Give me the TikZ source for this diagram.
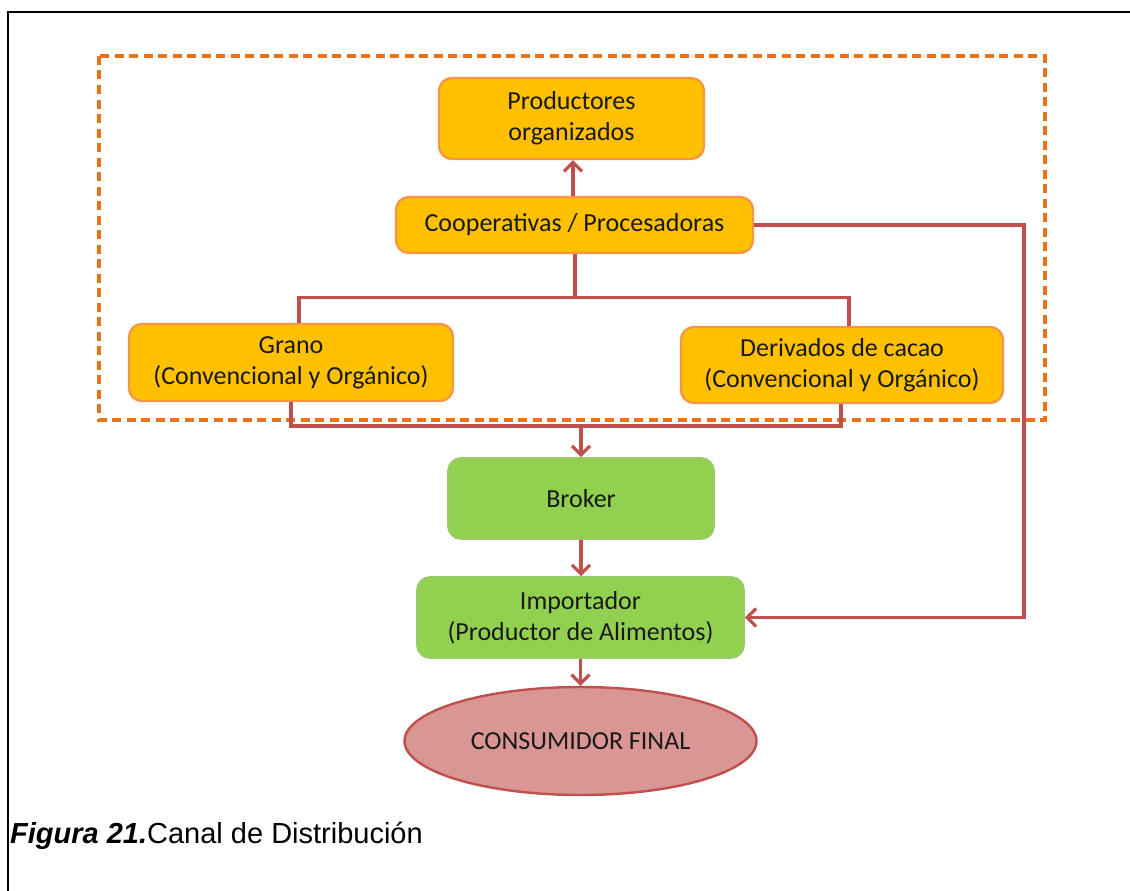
\documentclass[tikz,border=0pt]{standalone}
\usepackage{fontspec}
\setmainfont{Carlito}
\newfontfamily\captionfont{Liberation Sans}
\usetikzlibrary{arrows.meta,shapes.geometric}
\definecolor{boxorange}{HTML}{FFC000}
\definecolor{boxorangeedge}{HTML}{F79646}
\definecolor{boxgreen}{HTML}{92D050}
\definecolor{boxgreenedge}{HTML}{9BCB6A}
\definecolor{linkred}{HTML}{C0504D}
\definecolor{ellfill}{HTML}{D99694}
\definecolor{dashorange}{HTML}{E8731A}
\begin{document}
\begin{tikzpicture}[x=1pt,y=-1pt,
  every node/.style={font=\fontsize{26}{31}\selectfont, text=black!90, align=center, inner sep=0pt},
  ybox/.style={draw=boxorangeedge, fill=boxorange, line width=2.4pt, rounded corners=13pt},
  gbox/.style={draw=boxgreenedge, fill=boxgreen, line width=1.8pt, rounded corners=13pt},
  link/.style={draw=linkred, line width=3.2pt},
  flow/.style={link, -{Straight Barb[length=9pt,width=18pt,line width=3.2pt]}}
]
\useasboundingbox (0,0) rectangle (1130,891);
\fill[white] (0,0) rectangle (1130,891);

% page frame
\draw[black, line width=2.6pt] (8,891) -- (8,12) -- (1130,12);

% dashed group around the producer side
\draw[dashorange, line width=3.2pt, dash pattern=on 9pt off 5.5pt] (99,56) rectangle (1045,420);

% boxes
\node[ybox, minimum width=265pt, minimum height=81pt] (prod) at (571.5,118.5) {Productores\\organizados};
\node[ybox, minimum width=357pt, minimum height=56pt] (coop) at (574.5,225) {Cooperativas / Procesadoras};
\node[ybox, minimum width=324pt, minimum height=77pt] (grano) at (291,362.5) {Grano\\(Convencional y Orgánico)};
\node[ybox, minimum width=322pt, minimum height=76pt] (deriv) at (842,365) {Derivados de cacao\\(Convencional y Orgánico)};
\node[gbox, minimum width=266pt, minimum height=81pt] (broker) at (581,498.5) {Broker};
\node[gbox, minimum width=327pt, minimum height=81pt] (imp) at (580.5,617.5) {Importador\\(Productor de Alimentos)};
\node[ellipse, draw=linkred, fill=ellfill, line width=2.4pt, minimum width=352pt, minimum height=108pt] (cons) at (580.5,741) {CONSUMIDOR FINAL};

% junction points
\coordinate (split) at (575,297.5);
\coordinate (merge) at (581,426);
\coordinate (bend) at (1024,225);

% connectors
\draw[flow] (coop.north -| 573,0) -- (prod.south -| 573,0);
\draw[link] (coop.south -| split) -- (split);
\draw[link] (grano.north -| 299,0) |- (split) -| (deriv.north -| 849,0);
\draw[link] (grano.south) |- (merge) -| (deriv.south -| 841,0);
\draw[flow] (merge) -- (broker.north -| merge);
\draw[flow] (broker.south -| 581,0) -- (imp.north -| 581,0);
\draw[flow] (coop.east) -- (bend) |- (imp.east);
\draw[flow] (imp.south -| 580.5,0) -- (cons.north);

% caption
\node[anchor=base west, font=\captionfont\fontsize{29}{34}\selectfont, text=black] (cap) at (10,843)
  {\textbf{\textit{Figura 21.}}Canal de Distribución};
\end{tikzpicture}
\end{document}
